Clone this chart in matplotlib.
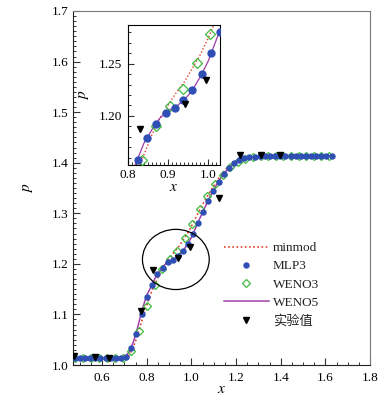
import matplotlib
matplotlib.use("Agg")
import matplotlib.pyplot as plt
from matplotlib.patches import Ellipse
from matplotlib.ticker import MultipleLocator, FormatStrFormatter

plt.rcParams['font.family'] = ['Liberation Serif', 'Noto Sans CJK SC']
plt.rcParams['mathtext.fontset'] = 'stix'

# ---- data ----
weno5_x = [0.46, 0.50, 0.60, 0.68, 0.70, 0.72, 0.74, 0.76, 0.78, 0.80, 0.82, 0.84, 0.86, 0.88,
           0.90, 0.92, 0.94, 0.96, 0.98, 1.00, 1.02, 1.04, 1.06, 1.08, 1.10, 1.12, 1.14, 1.16,
           1.18, 1.20, 1.22, 1.25, 1.30, 1.40, 1.50, 1.63]
weno5_y = [1.013, 1.013, 1.013, 1.013, 1.015, 1.025, 1.045, 1.075, 1.110, 1.138, 1.155, 1.174,
           1.187, 1.198, 1.205, 1.209, 1.215, 1.224, 1.237, 1.252, 1.272, 1.292, 1.311, 1.330,
           1.347, 1.362, 1.375, 1.386, 1.395, 1.401, 1.406, 1.410, 1.413, 1.414, 1.414, 1.414]

minmod_x = [0.46, 0.70, 0.72, 0.74, 0.76, 0.78, 0.80, 0.82, 0.84, 0.86, 0.88, 0.90, 0.92, 0.94,
            0.96, 0.98, 1.00, 1.02, 1.04, 1.06, 1.08, 1.10, 1.12, 1.14, 1.16, 1.18, 1.20, 1.25,
            1.30, 1.63]
minmod_y = [1.013, 1.013, 1.018, 1.035, 1.060, 1.090, 1.118, 1.143, 1.163, 1.182, 1.198, 1.210,
            1.222, 1.232, 1.245, 1.258, 1.274, 1.292, 1.309, 1.325, 1.340, 1.354, 1.368, 1.380,
            1.390, 1.398, 1.404, 1.410, 1.413, 1.414]

mlp3_x = [0.478, 0.501, 0.524, 0.547, 0.570, 0.593, 0.616, 0.639, 0.662, 0.685, 0.708, 0.731,
          0.754, 0.777, 0.800, 0.8245, 0.848, 0.871, 0.894, 0.9165, 0.938, 0.961, 0.984, 1.007,
          1.030, 1.053, 1.076, 1.099, 1.122, 1.145, 1.168, 1.191, 1.214, 1.237, 1.260, 1.283,
          1.306, 1.329, 1.352, 1.375, 1.398, 1.421, 1.444, 1.467, 1.490, 1.513, 1.536, 1.559,
          1.582, 1.605, 1.628]
mlp3_y = [1.013, 1.013, 1.013, 1.013, 1.013, 1.013, 1.013, 1.013, 1.013, 1.013, 1.016, 1.033,
          1.062, 1.100, 1.135, 1.1576, 1.179, 1.192, 1.203, 1.208, 1.215, 1.225, 1.240, 1.260,
          1.280, 1.302, 1.324, 1.344, 1.362, 1.377, 1.390, 1.399, 1.405, 1.409, 1.411, 1.412,
          1.413, 1.413, 1.413, 1.413, 1.413, 1.413, 1.413, 1.413, 1.413, 1.413, 1.413, 1.413,
          1.413, 1.413, 1.413]

weno3_x = [0.479, 0.515, 0.551, 0.587, 0.623, 0.659, 0.695, 0.731, 0.766, 0.801, 0.836, 0.870,
           0.904, 0.937, 0.972, 1.004, 1.038, 1.072, 1.106, 1.140, 1.174, 1.208, 1.242, 1.276,
           1.310, 1.344, 1.378, 1.412, 1.446, 1.480, 1.514, 1.548, 1.582, 1.616]
weno3_y = [1.013, 1.013, 1.013, 1.013, 1.013, 1.013, 1.014, 1.028, 1.068, 1.117, 1.158, 1.190,
           1.209, 1.226, 1.251, 1.278, 1.308, 1.334, 1.357, 1.376, 1.391, 1.401, 1.407, 1.411,
           1.413, 1.414, 1.414, 1.414, 1.414, 1.414, 1.414, 1.414, 1.414, 1.414]

exp_x = [0.474, 0.569, 0.633, 0.774, 0.830, 0.942, 0.994, 1.126, 1.218, 1.310, 1.395]
exp_y = [1.018, 1.016, 1.014, 1.106, 1.187, 1.211, 1.234, 1.331, 1.415, 1.415, 1.415]

labels = ['minmod', 'MLP3', 'WENO3', 'WENO5', '实验值']

c_red = '#e0402a'
c_blue = '#2f4fb5'
c_green = '#3dbb3d'
c_purple = '#a03ca8'

fig = plt.figure(figsize=(3.83, 3.99), dpi=100)
ax = fig.add_axes([73/383, 1-365/399, 297/383, 354/399])


def draw(a, ms_c, ms_d, ms_t, lw):
    h1, = a.plot(minmod_x, minmod_y, linestyle=(0, (1, 1.5)), color=c_red, lw=lw, zorder=2)
    h4, = a.plot(weno5_x, weno5_y, '-', color=c_purple, lw=lw * 0.9, zorder=3)
    h3, = a.plot(weno3_x, weno3_y, 'D', ms=ms_d, mfc='none', mec=c_green, mew=0.9, zorder=4)
    h2, = a.plot(mlp3_x, mlp3_y, 'o', ms=ms_c, color=c_blue, mec=c_blue, zorder=5)
    h5, = a.plot(exp_x, exp_y, 'v', ms=ms_t, color='black', zorder=6)
    return h1, h2, h3, h4, h5


h1, h2, h3, h4, h5 = draw(ax, 3.6, 3.8, 4.2, 1.2)

ax.set_xlim(0.47, 1.8)
ax.set_ylim(1.0, 1.7)
ax.xaxis.set_major_locator(MultipleLocator(0.2))
ax.xaxis.set_minor_locator(MultipleLocator(0.05))
ax.yaxis.set_major_locator(MultipleLocator(0.1))
ax.yaxis.set_minor_locator(MultipleLocator(0.01))
ax.xaxis.set_major_formatter(FormatStrFormatter('%.1f'))
ax.yaxis.set_major_formatter(FormatStrFormatter('%.1f'))
ax.tick_params(which='both', direction='in', top=False, right=False, labelsize=9.5, color='#333333')
ax.tick_params(which='major', length=5, width=0.8)
ax.tick_params(which='minor', length=2.5, width=0.7)
ax.tick_params(axis='x', which='major', pad=5)
ax.tick_params(axis='y', which='major', pad=3)
for s in ['top', 'right']:
    ax.spines[s].set_color('#7a7a7a')
for s in ['left', 'bottom']:
    ax.spines[s].set_color('#222222')
ax.set_xlabel('$x$', fontsize=11, labelpad=-1)
ax.set_ylabel('$p$', fontsize=11, labelpad=12)

ell = Ellipse((0.9305, 1.2087), 0.299, 0.119, fill=False, ec='black', lw=0.9, zorder=7)
ax.add_patch(ell)

leg = ax.legend([h1, h2, h3, h4, h5], labels, loc='upper left',
                bbox_to_anchor=(224/383, 1-242/399), bbox_transform=fig.transFigure,
                frameon=False, fontsize=9.5, handlelength=3.4, handletextpad=0.3,
                labelspacing=0.45, borderpad=0, borderaxespad=0, markerscale=1.0)
for t in leg.get_texts():
    t.set_color('#222222')

# inset
ins = fig.add_axes([128/383, 1-165/399, 92/383, 140/399])
draw(ins, 5.0, 4.6, 4.3, 1.0)
ins.set_xlim(0.8, 1.03)
ins.set_ylim(1.153, 1.287)
ins.xaxis.set_major_locator(MultipleLocator(0.1))
ins.xaxis.set_minor_locator(MultipleLocator(0.01))
ins.yaxis.set_major_locator(MultipleLocator(0.05))
ins.yaxis.set_minor_locator(MultipleLocator(0.01))
ins.xaxis.set_major_formatter(FormatStrFormatter('%.1f'))
ins.yaxis.set_major_formatter(FormatStrFormatter('%.2f'))
ins.tick_params(which='both', direction='in', top=False, right=False, labelsize=9.5, color='#333333')
ins.tick_params(which='major', length=4, width=0.8)
ins.tick_params(which='minor', length=2, width=0.7)
ins.tick_params(axis='x', which='major', pad=3)
ins.tick_params(axis='y', which='major', pad=4)
ins.set_xlabel('$x$', fontsize=11, labelpad=0)
ins.set_ylabel('$p$', fontsize=11, labelpad=6)

fig.savefig('out.png', dpi=100)
